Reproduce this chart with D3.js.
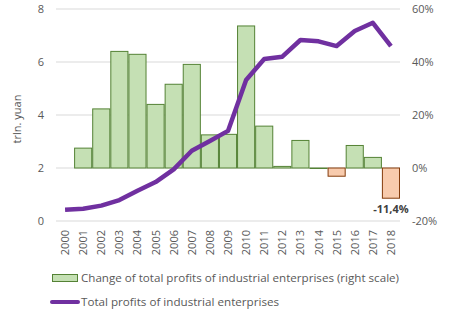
<!DOCTYPE html>
<html><head><meta charset="utf-8">
<script src="https://cdn.jsdelivr.net/npm/d3@7"></script>
<style>body{margin:0;background:#fff}svg{display:block;font-family:"Open Sans","Noto Sans",sans-serif}</style>
</head><body><svg id="c" width="454" height="322"></svg>
<script>
const years = ["2000","2001","2002","2003","2004","2005","2006","2007","2008","2009","2010","2011","2012","2013","2014","2015","2016","2017","2018"];
const changePct = [null,7.5,22.3,44.0,42.9,24.0,31.6,39.1,12.5,12.7,53.6,15.8,0.6,10.4,0.0,-3.1,8.5,4.0,-11.4];
const profits = [0.42,0.46,0.58,0.79,1.14,1.47,1.95,2.65,3.02,3.40,5.32,6.11,6.20,6.83,6.78,6.60,7.17,7.48,6.60];
const leftTicks = [0,2,4,6,8];
const rightTicks = [-20,0,20,40,60];
const legendLabels = ["Change of total profits of industrial enterprises (right scale)","Total profits of industrial enterprises"];

const svg = d3.select("#c");
const L = 56, R = 400, T = 9, B = 221;
const x = d3.scaleBand().domain(years).range([L,R]).padding(0);
const yL = d3.scaleLinear().domain([0,8]).range([B,T]);
const yR = d3.scaleLinear().domain([-20,60]).range([B,T]);
const txt = "#595959";

// grid
svg.append("g").selectAll("line").data(leftTicks).join("line")
  .attr("x1",L).attr("x2",R).attr("y1",d=>yL(d)).attr("y2",d=>yL(d))
  .attr("stroke","#d9d9d9").attr("stroke-width",1);

// left axis labels
const gl = svg.append("g").attr("transform",`translate(44,0)`)
  .call(d3.axisLeft(yL).tickValues(leftTicks).tickSize(0).tickPadding(0));
gl.select(".domain").remove();
gl.selectAll("text").attr("fill",txt).style("font-size","11px").style("font-family","'Open Sans'");

// right axis labels
const gr = svg.append("g").attr("transform",`translate(412,0)`)
  .call(d3.axisRight(yR).tickValues(rightTicks).tickSize(0).tickPadding(0).tickFormat(d=>d+"%"));
gr.select(".domain").remove();
gr.selectAll("text").attr("fill",txt).style("font-size","11px").style("font-family","'Open Sans'");

// y title
svg.append("text").attr("transform","translate(21,119) rotate(-90)").attr("text-anchor","middle")
  .attr("fill",txt).style("font-size","11px").text("trln. yuan");

// bars
const bd = years.map((y,i)=>({y,v:changePct[i]})).filter(d=>d.v!==null);
svg.append("g").selectAll("rect").data(bd).join("rect")
  .attr("x",d=>x(d.y)+0.5).attr("width",x.bandwidth()-1)
  .attr("y",d=>yR(Math.max(0,d.v))).attr("height",d=>Math.max(0.5,Math.abs(yR(d.v)-yR(0))))
  .attr("fill",d=>d.v<0?"#f8cbad":"#c5e0b4")
  .attr("stroke",d=>d.v<0?"#843c0c":"#548235").attr("stroke-width",1);

// line
svg.append("path").datum(profits)
  .attr("d",d3.line().x((d,i)=>x(years[i])+x.bandwidth()/2).y(d=>yL(d)))
  .attr("fill","none").attr("stroke","#7030a0").attr("stroke-width",4.5).attr("stroke-linejoin","round");

// data label
svg.append("text").attr("x",x("2018")+x.bandwidth()/2).attr("y",yR(changePct[18])+15)
  .attr("text-anchor","middle").attr("fill","#404040").style("font-size","11px").style("font-weight","bold")
  .text("-11,4%");

// x labels
svg.append("g").selectAll("text").data(years).join("text")
  .attr("transform",d=>`translate(${x(d)+x.bandwidth()/2+4},230) rotate(-90)`)
  .attr("text-anchor","end").attr("fill",txt).style("font-size","11px").text(d=>d);

// legend
svg.append("rect").attr("x",52.5).attr("y",274.5).attr("width",25).attr("height",7)
  .attr("fill","#c5e0b4").attr("stroke","#548235");
svg.append("text").attr("x",81).attr("y",282).attr("fill",txt).style("font-size","11.5px")
  .attr("textLength",318).attr("lengthAdjust","spacingAndGlyphs").text(legendLabels[0]);
svg.append("line").attr("x1",52).attr("x2",78).attr("y1",302).attr("y2",302)
  .attr("stroke","#7030a0").attr("stroke-width",4).attr("stroke-linecap","round");
svg.append("text").attr("x",81).attr("y",306).attr("fill",txt).style("font-size","11.5px")
  .attr("textLength",198).attr("lengthAdjust","spacingAndGlyphs").text(legendLabels[1]);
</script></body></html>
